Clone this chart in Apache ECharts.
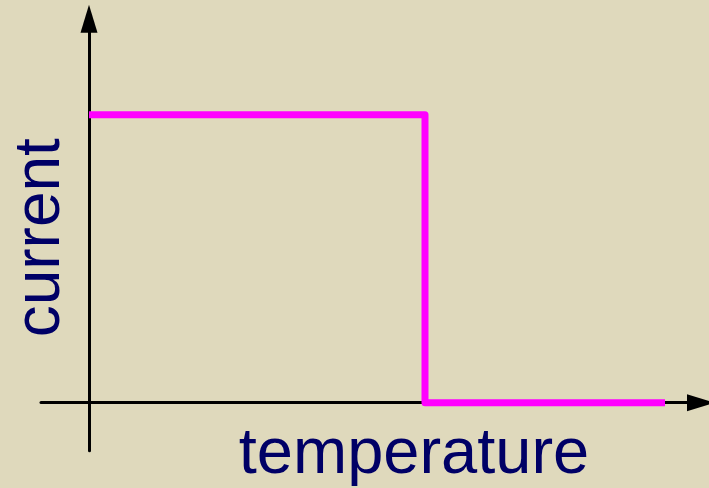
<!DOCTYPE html>
<html>
<head>
<meta charset="utf-8">
<script src="https://cdn.jsdelivr.net/npm/echarts@6/dist/echarts.min.js"></script>
<style>
html,body{margin:0;padding:0;background:#DFD9BC;}
#c{width:709px;height:488px;}
</style>
</head>
<body>
<div id="c"></div>
<script>
// Data
var temperature = [0, 7, 7, 12];
var current = [6, 6, 0, 0];
var xName = 'temperature';
var yName = 'current';

var chart = echarts.init(document.getElementById('c'), null, {renderer: 'canvas'});
var navy = '#000066';
var font = '"Liberation Sans", Arial, sans-serif';
chart.setOption({
  animation: false,
  backgroundColor: '#DFD9BC',
  grid: {left: 41, right: 8, top: 18.7, bottom: 37.3, containLabel: false, outerBoundsMode: 'none'},
  xAxis: {
    type: 'value', min: -1, max: 12.75,
    name: xName, nameLocation: 'middle', nameGap: -28,
    nameTextStyle: {color: navy, fontSize: 65, fontFamily: font, padding: [0, 0, 0, 86]},
    axisLine: {show: true, onZero: true, symbol: ['none', 'triangle'], symbolSize: [17, 28],
      lineStyle: {color: '#000', width: 3}},
    axisTick: {show: false}, axisLabel: {show: false}, splitLine: {show: false}
  },
  yAxis: {
    type: 'value', min: -1, max: 8,
    name: yName, nameLocation: 'middle', nameGap: -32,
    nameTextStyle: {color: navy, fontSize: 64, fontFamily: font, padding: [0, 6, 0, 0]},
    axisLine: {show: true, onZero: true, symbol: ['none', 'triangle'], symbolSize: [17, 28],
      lineStyle: {color: '#000', width: 3}},
    axisTick: {show: false}, axisLabel: {show: false}, splitLine: {show: false}
  },
  series: [{
    type: 'line',
    data: temperature.map(function (t, i) { return [t, current[i]]; }),
    showSymbol: false,
    symbol: 'none',
    lineStyle: {color: '#FF00FF', width: 7, join: 'round', cap: 'butt'},
    itemStyle: {color: '#FF00FF'}
  }]
});
</script>
</body>
</html>
